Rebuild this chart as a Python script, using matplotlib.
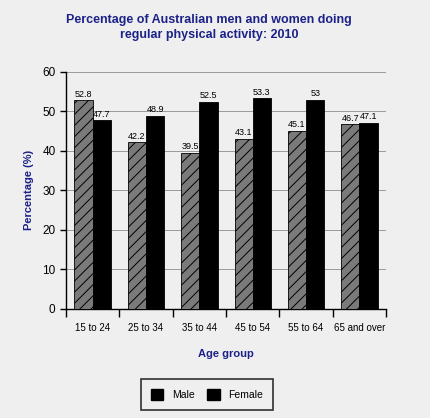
import matplotlib.pyplot as plt
import numpy as np

plt.rcParams['font.family'] = ['Liberation Sans', 'DejaVu Sans']
plt.rcParams['hatch.color'] = '#333333'
plt.rcParams['hatch.linewidth'] = 0.7

ages = ['15 to 24', '25 to 34', '35 to 44', '45 to 54', '55 to 64', '65 and over']
male = [52.8, 42.2, 39.5, 43.1, 45.1, 46.7]
female = [47.7, 48.9, 52.5, 53.3, 53, 47.1]
male_lbl = ['52.8', '42.2', '39.5', '43.1', '45.1', '46.7']
female_lbl = ['47.7', '48.9', '52.5', '53.3', '53', '47.1']

bg = '#efefef'
navy = '#1c2288'

fig = plt.figure(figsize=(4.31, 4.18), dpi=100, facecolor=bg)
ax = fig.add_axes([0.153, 0.261, 0.743, 0.567], facecolor=bg)

x = np.arange(len(ages))
w = 0.34
b1 = ax.bar(x - w/2, male, w, color='#7a7a7a', edgecolor='black', linewidth=0.6,
            hatch='///', label='Male', zorder=3)
b2 = ax.bar(x + w/2, female, w, color='black', edgecolor='black', linewidth=0.6,
            label='Female', zorder=3)
ax.bar_label(b1, labels=male_lbl, fontsize=6.5, padding=1)
ax.bar_label(b2, labels=female_lbl, fontsize=6.5, padding=1)

ax.set_xlim(-0.5, 5.5)
ax.set_ylim(0, 60)
ax.set_yticks(range(0, 61, 10))
ax.yaxis.grid(True, color='#9a9a9a', linewidth=0.7, zorder=0)
ax.set_xticks(np.arange(-0.5, 6, 1))
ax.set_xticklabels([])
ax.set_xticks(x, minor=True)
ax.set_xticklabels(ages, minor=True, fontsize=7)
ax.tick_params(axis='x', which='minor', length=0, pad=10)
ax.tick_params(axis='x', which='major', length=6, width=1)
ax.tick_params(axis='y', labelsize=8.5, length=4, width=1)
for s in ['top', 'right']:
    ax.spines[s].set_visible(False)
ax.spines['left'].set_linewidth(1)
ax.spines['bottom'].set_linewidth(1)

ax.set_ylabel('Percentage (%)', color=navy, fontweight='bold', fontsize=8, labelpad=6)
ax.set_xlabel('Age group', color=navy, fontweight='bold', fontsize=8, labelpad=12)

fig.text(0.485, 0.934, 'Percentage of Australian men and women doing\nregular physical activity: 2010',
         ha='center', va='center', color=navy, fontweight='bold', fontsize=9, linespacing=1.35)

leg = fig.legend(handles=[plt.Rectangle((0, 0), 1, 1, color='black'),
                          plt.Rectangle((0, 0), 1, 1, color='black')],
                 labels=['Male', 'Female'], loc='center', bbox_to_anchor=(0.48, 0.056),
                 ncol=2, frameon=True, fancybox=False, edgecolor='black', facecolor=bg,
                 fontsize=7.5, handlelength=1.2, handleheight=1.2, columnspacing=1.2,
                 borderpad=0.95)
leg.get_frame().set_linewidth(1.2)

fig.savefig('out.png', dpi=100, facecolor=bg)
